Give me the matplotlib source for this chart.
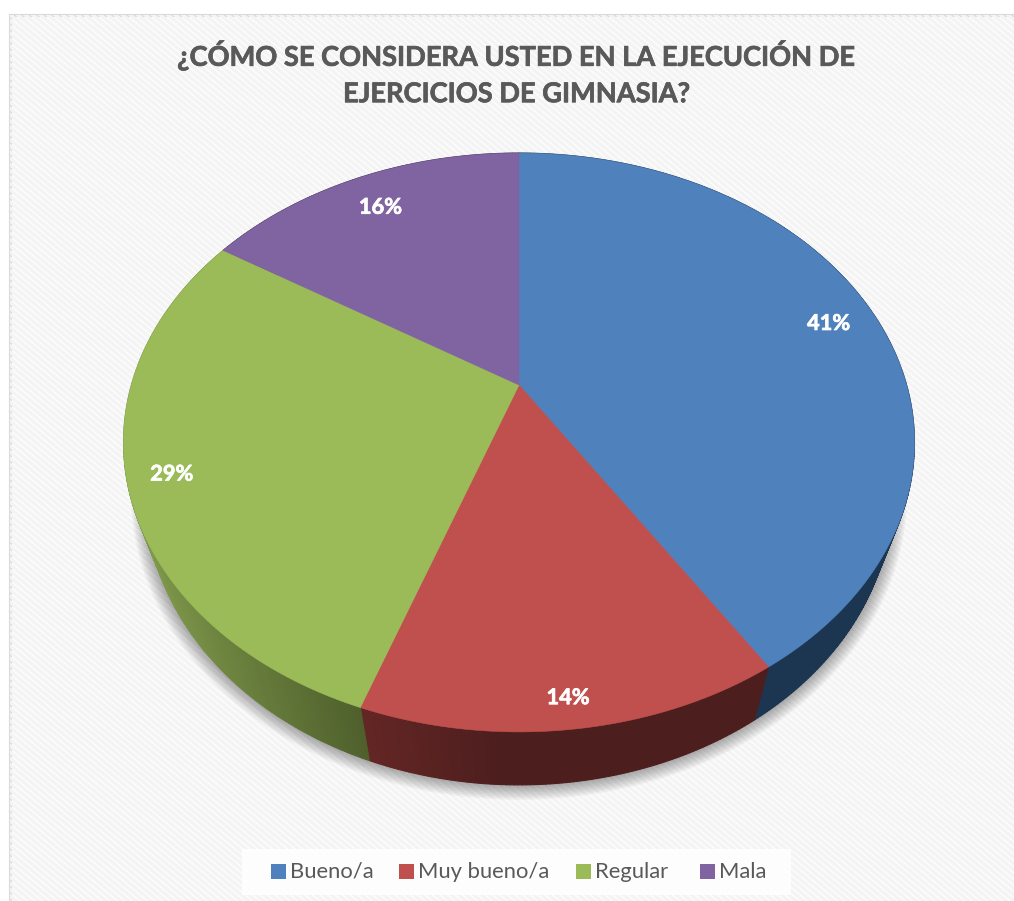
"""
plot.py — Pie chart in perspective: self-rating on gymnastics exercises
"""

import numpy as np
import matplotlib
matplotlib.use("Agg")
import matplotlib.pyplot as plt
import matplotlib.patheffects as pe
from matplotlib.collections import LineCollection
from matplotlib.patches import Polygon, Rectangle

categories = ["Bueno/a", "Muy bueno/a", "Regular", "Mala"]
values = [41.0, 14.4, 28.6, 16.0]
colors = ["#4F81BD", "#C0504D", "#9BBB59", "#8064A2"]
title = "¿CÓMO SE CONSIDERA USTED EN LA EJECUCIÓN DE\nEJERCICIOS DE GIMNASIA?"

plt.rcParams["font.family"] = ["Lato", "DejaVu Sans"]

# perspective of the disc, in pixels
CX, CY = 519, 385
RX, RY, K = 387.6, 278, 0.1986
DEPTH, SHRINK = 53, 0.943


def project(theta, r=1.0):
    # theta in degrees clockwise from 12 o'clock
    t = np.radians(theta)
    u, v = r * np.sin(t), r * np.cos(t)
    w = 1 + K * v
    return CX + RX * u / w, CY - RY * v / w


def project_low(theta):
    x, y = project(theta)
    return CX + (x - CX) * SHRINK, y + DEPTH


def lerp_color(c0, c1, t):
    c0, c1 = np.array(c0), np.array(c1)
    return tuple((c0 + (c1 - c0) * np.clip(t, 0, 1)) / 255)


fig = plt.figure(figsize=(10.14, 9.01), dpi=100)
ax = fig.add_axes([0, 0, 1, 1])
ax.set_xlim(0, 1014)
ax.set_ylim(901, 0)
ax.axis("off")

# panel with diagonal stripes, runs off the right and bottom of the picture
panel = Rectangle((9.5, 14.5), 1100, 1000, facecolor="white", edgecolor="#DADADA", linewidth=2.2, zorder=1)
ax.add_patch(panel)
offsets = np.arange(-1200, 1100, 7.5)
stripes = LineCollection([[(o, 0), (o + 1200, 1000)] for o in offsets], colors="#F4F4F4", linewidths=2.6, zorder=1.1)
ax.add_collection(stripes)
stripes.set_clip_path(panel)

# soft shadow under the disc
angles = np.linspace(0, 360, 721)
lx, ly = project_low(angles)
mx, my = lx.mean(), (ly.max() + ly.min()) / 2
for d in np.arange(15, 0, -1.5):
    sx = (lx.max() - mx + d) / (lx.max() - mx)
    sy = (ly.max() - my + d) / (ly.max() - my)
    ax.add_patch(Polygon(np.c_[mx + (lx - mx) * sx, my + (ly - my) * sy], facecolor="black",
                         edgecolor="none", alpha=0.035, zorder=2))

# side wall, strip by strip so the shading can change along it
edges = np.cumsum([0] + values) / sum(values) * 360
side_left = [(28, 53, 81), (98, 38, 36), (126, 152, 74), (60, 45, 80)]
side_right = [(28, 53, 81), (77, 30, 30), (78, 95, 44), (60, 45, 80)]
side_range = [(700, 900), (371, 500), (140, 365), (140, 365)]
for i in range(len(values)):
    th = np.arange(edges[i], edges[i + 1] + 0.5, 0.5)
    th[-1] = edges[i + 1]
    for a, b in zip(th[:-1], th[1:]):
        xa, ya = project(a)
        xb, yb = project(b)
        xc, yc = project_low(b)
        xd, yd = project_low(a)
        lo, hi = side_range[i]
        col = lerp_color(side_left[i], side_right[i], (xa - lo) / (hi - lo))
        ax.add_patch(Polygon([(xa, ya), (xb, yb), (xc, yc), (xd, yd)], facecolor=col, edgecolor=col,
                             linewidth=0.8, zorder=3))

# top face
for i, c in enumerate(colors):
    th = np.linspace(edges[i], edges[i + 1], 200)
    x, y = project(th)
    pts = np.vstack([[CX, CY], np.c_[x, y]])
    ax.add_patch(Polygon(pts, facecolor=c, edgecolor=c, linewidth=0.4, zorder=4))

# percentage labels
label_radius = [0.872, 0.918, 0.893, 0.852]
for i, v in enumerate(values):
    x, y = project((edges[i] + edges[i + 1]) / 2, label_radius[i])
    t = ax.text(x, y + 3, f"{v:.0f}%", color="white", fontsize=15.7, fontweight="bold", ha="center", va="center", zorder=5)
    t.set_path_effects([pe.withStroke(linewidth=0.5, foreground="white")])

t = ax.text(517, 73.5, title, color="#595959", fontsize=19.6, fontweight="bold", ha="center", va="center",
            linespacing=1.62, zorder=5)
t.set_path_effects([pe.withStroke(linewidth=0.5, foreground="#595959")])

# legend
ax.add_patch(Rectangle((242, 849), 549, 46, facecolor="white", edgecolor="none", alpha=0.85, zorder=5))
square_x = [271, 399, 576, 700]
for sx, name, c in zip(square_x, categories, colors):
    ax.add_patch(Rectangle((sx, 864), 14.5, 15, facecolor=c, edgecolor="none", zorder=6))
    ax.text(sx + 19, 872, name, color="#595959", fontsize=15.8, ha="left", va="center", zorder=6)

fig.savefig("out.png", dpi=100)
